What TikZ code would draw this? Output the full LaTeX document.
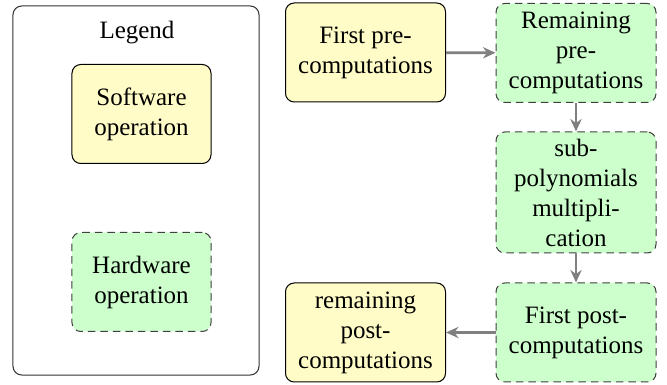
\documentclass[tikz,border=0pt]{standalone}
\usepackage{fontspec}
\setmainfont{Liberation Serif}
\newfontfamily\timesfont{Liberation Serif}
\usetikzlibrary{arrows.meta}

\tikzset{
  every node/.style={font=\timesfont},
  swop/.style={rectangle, rounded corners=3.5pt, draw=black, fill=yellow!22,
    align=center, inner sep=1pt, minimum width=64pt, minimum height=39.6pt},
  hwop/.style={rectangle, rounded corners=3.5pt, draw=black!75, dash pattern=on 3pt off 2pt,
    fill=green!20, align=center, inner sep=1pt, minimum width=64pt, minimum height=39.6pt},
  flow/.style={-{Stealth[length=5pt,width=4.5pt]}, draw=black!50, line width=1.1pt}
}

\begin{document}
\begin{tikzpicture}[x=0.4pt, y=-0.4pt]
    \useasboundingbox (0,0) rectangle (667,385);

    % legend
    \node[draw=black!80, rounded corners=3.5pt, minimum width=98.4pt, minimum height=147.6pt] (legend) at (136,190.5) {};
    \node (legtitle) at (137,33) {Legend};
    \node[swop, minimum width=55.6pt] (legsw) at (141.5,114) {Software\\operation};
    \node[hwop, minimum width=55.6pt] (leghw) at (141.5,282) {Hardware\\operation};

    % flow
    \node[swop] (firstpre) at (365.5,52.5) {First pre-\\computations};
    \node[hwop] (restpre) at (576,53) {Remaining\\pre-\\computations};
    \node[hwop, minimum height=48.4pt] (submul) at (576,192.5) {sub-\\polynomials\\multipli-\\cation};
    \node[hwop] (firstpost) at (576,332.5) {First post-\\computations};
    \node[swop] (restpost) at (365.5,332.5) {remaining\\post-\\computations};

    \draw[flow] (firstpre) -- (restpre);
    \draw[flow] (restpre) -- (submul);
    \draw[flow] (submul) -- (firstpost);
    \draw[flow] (firstpost) -- (restpost);
\end{tikzpicture}
\end{document}
